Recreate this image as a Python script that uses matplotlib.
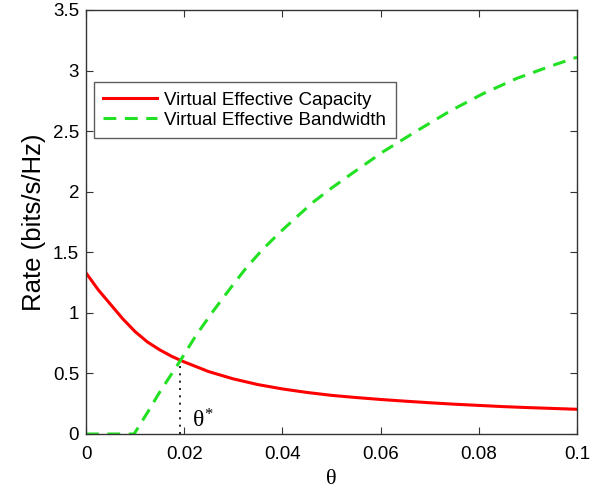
import matplotlib
matplotlib.use("Agg")
import matplotlib.pyplot as plt

# values
theta_cap = [0, 0.0025, 0.005, 0.0075, 0.01, 0.0125, 0.015, 0.0175, 0.02, 0.025,
             0.03, 0.035, 0.04, 0.045, 0.05, 0.055, 0.06, 0.065, 0.07, 0.075,
             0.08, 0.085, 0.09, 0.095, 0.1]
capacity = [1.33, 1.19, 1.07, 0.95, 0.845, 0.76, 0.695, 0.64, 0.595, 0.515,
            0.455, 0.408, 0.372, 0.343, 0.319, 0.301, 0.285, 0.271, 0.258, 0.246,
            0.236, 0.226, 0.218, 0.211, 0.204]

theta_bw = [0, 0.005, 0.0098, 0.0125, 0.015, 0.0175, 0.0192, 0.0225, 0.026, 0.03,
            0.0327, 0.036, 0.0395, 0.043, 0.0463, 0.05, 0.0538, 0.0605, 0.0673,
            0.0741, 0.0809, 0.0877, 0.0945, 0.1]
bandwidth = [0, 0, 0, 0.176, 0.345, 0.50, 0.605, 0.82, 1.02, 1.235,
             1.375, 1.525, 1.665, 1.795, 1.915, 2.03, 2.14, 2.33, 2.50,
             2.665, 2.81, 2.935, 3.035, 3.11]

theta_star = 0.0191
rate_star = 0.605

xticks = [0, 0.02, 0.04, 0.06, 0.08, 0.1]
xticklabels = ["0", "0.02", "0.04", "0.06", "0.08", "0.1"]
yticks = [0, 0.5, 1, 1.5, 2, 2.5, 3, 3.5]
yticklabels = ["0", "0.5", "1", "1.5", "2", "2.5", "3", "3.5"]

plt.rcParams['font.family'] = ['Liberation Sans', 'DejaVu Sans']
plt.rcParams['mathtext.fontset'] = 'custom'
plt.rcParams['mathtext.rm'] = 'Liberation Serif'
plt.rcParams['mathtext.it'] = 'Liberation Serif'

fig = plt.figure(figsize=(6.10, 4.91), dpi=100)
ax = fig.add_axes([86 / 610, 1 - 434 / 491, (577 - 86) / 610, (434 - 10) / 491])

ax.plot(theta_cap, capacity, color='#ff0000', lw=2.2, label='Virtual Effective Capacity')
ax.plot(theta_bw, bandwidth, color='#22e022', lw=2.2, dashes=(4.2, 2.8),
        label='Virtual Effective Bandwidth')
ax.plot([theta_star, theta_star], [0, rate_star], color='black', lw=1.2, ls=(0, (1.2, 3.2)))
ax.text(theta_star + 0.0025, 0.05, r'$\theta^{*}$', fontsize=17)

ax.set_xlim(0, 0.1)
ax.set_ylim(0, 3.5)
ax.set_xticks(xticks)
ax.set_xticklabels(xticklabels)
ax.set_yticks(yticks)
ax.set_yticklabels(yticklabels)
ax.tick_params(direction='in', top=True, right=True, length=5, width=0.8,
               labelsize=13.5, colors='#333333', labelcolor='black')
ax.tick_params(axis='x', pad=8.5)
ax.tick_params(axis='y', pad=5)
for s in ax.spines.values():
    s.set_color('#333333')
    s.set_linewidth(1.0)

ax.set_xlabel('θ', fontsize=16, fontfamily='Liberation Serif', labelpad=5)
ax.set_ylabel('Rate (bits/s/Hz)', fontsize=18.5, labelpad=5)

leg = ax.legend(loc='upper left', bbox_to_anchor=(0.016, 0.830), fontsize=13.5,
                frameon=True, fancybox=False, handlelength=2.85, borderpad=0.5,
                labelspacing=0.15, handletextpad=0.4, borderaxespad=0)
leg.get_frame().set_edgecolor('#333333')
leg.get_frame().set_linewidth(1.0)

fig.savefig('out.png', dpi=100)
